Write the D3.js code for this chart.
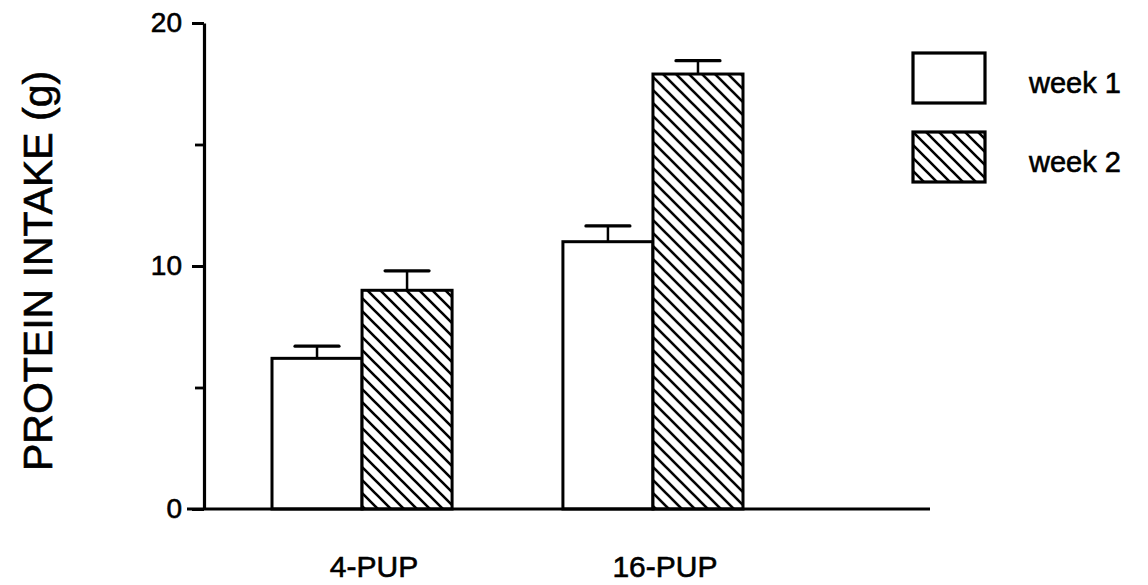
<!DOCTYPE html>
<html>
<head>
<meta charset="utf-8">
<script src="https://cdn.jsdelivr.net/npm/d3@7"></script>
<style>
  html, body { margin: 0; padding: 0; background: #fff; }
  svg { display: block; }
  text { font-family: "Liberation Sans", Arial, Helvetica, sans-serif; fill: #000; stroke: #000; stroke-width: 0.6px; }
</style>
</head>
<body>
<svg id="chart" width="1148" height="585"></svg>
<script>
// Protein intake per litter size, weeks 1 and 2 (mean ± SE)
const categories = ["4-PUP", "16-PUP"];
const seriesNames = ["week 1", "week 2"];
const week1 = [6.2, 11.0];
const week2 = [9.0, 17.9];
const week1Err = [0.5, 0.65];
const week2Err = [0.8, 0.55];
const yTickLabels = [0, 10, 20];
const yMinorTicks = [5, 15];
const yTitle = "PROTEIN INTAKE (g)";

const svg = d3.select("#chart");

const axisX = 204;
const y = d3.scaleLinear().domain([0, 20]).range([509, 23]);

const x0 = d3.scaleBand()
  .domain(categories)
  .range([272, 743])
  .paddingInner(0.381)
  .paddingOuter(0);
const x1 = d3.scaleBand()
  .domain(seriesNames)
  .range([0, x0.bandwidth()])
  .padding(0);

// Diagonal hatch fill for week 2
const defs = svg.append("defs");
const pat = defs.append("pattern")
  .attr("id", "hatch")
  .attr("patternUnits", "userSpaceOnUse")
  .attr("width", 13).attr("height", 13);
pat.append("rect").attr("width", 13).attr("height", 13).attr("fill", "#fff");
pat.append("path")
  .attr("d", "M-3,-3 L16,16 M-3,10 L3,16 M10,-3 L16,3")
  .attr("stroke", "#000").attr("stroke-width", 2.6).attr("fill", "none");

const fills = { "week 1": "#fff", "week 2": "url(#hatch)" };

const rows = categories.map((c, i) => ({
  cat: c,
  values: [
    { series: "week 1", value: week1[i], err: week1Err[i] },
    { series: "week 2", value: week2[i], err: week2Err[i] }
  ]
}));

const groups = svg.append("g").selectAll("g")
  .data(rows).join("g")
  .attr("transform", d => `translate(${x0(d.cat)},0)`);

// Error bars (behind the bar outlines)
groups.selectAll("g.err")
  .data(d => d.values).join("g")
  .attr("class", "err")
  .each(function (d) {
    const g = d3.select(this);
    const cx = x1(d.series) + x1.bandwidth() / 2;
    g.append("line")
      .attr("x1", cx).attr("x2", cx)
      .attr("y1", y(d.value)).attr("y2", y(d.value + d.err))
      .attr("stroke", "#000").attr("stroke-width", 2.5);
    g.append("line")
      .attr("x1", cx - 22).attr("x2", cx + 22)
      .attr("y1", y(d.value + d.err)).attr("y2", y(d.value + d.err))
      .attr("stroke", "#000").attr("stroke-width", 3.2)
      .attr("stroke-linecap", "round");
  });

groups.selectAll("rect")
  .data(d => d.values).join("rect")
  .attr("x", d => x1(d.series))
  .attr("width", x1.bandwidth())
  .attr("y", d => y(d.value))
  .attr("height", d => y(0) - y(d.value))
  .attr("fill", d => fills[d.series])
  .attr("stroke", "#000")
  .attr("stroke-width", 3);

// Baseline
svg.append("line")
  .attr("x1", 187).attr("x2", 930)
  .attr("y1", y(0)).attr("y2", y(0))
  .attr("stroke", "#000").attr("stroke-width", 3.2);

// Y axis
const yAxis = svg.append("g")
  .attr("transform", `translate(${axisX},0)`)
  .call(d3.axisLeft(y).tickValues(yTickLabels).tickFormat(d3.format("d"))
    .tickSize(12).tickSizeOuter(0).tickPadding(10));
yAxis.select(".domain").attr("stroke", "#000").attr("stroke-width", 3.2);
yAxis.selectAll(".tick line").attr("stroke", "#000").attr("stroke-width", 3);
yAxis.selectAll(".tick text")
  .style("font-size", "28px")
  .attr("fill", "#000");

const yMinor = svg.append("g")
  .attr("transform", `translate(${axisX},0)`)
  .call(d3.axisLeft(y).tickValues(yMinorTicks).tickFormat("").tickSize(9).tickSizeOuter(0));
yMinor.select(".domain").remove();
yMinor.selectAll(".tick line").attr("stroke", "#000").attr("stroke-width", 2.8);

// Category labels
svg.append("g").selectAll("text")
  .data(categories).join("text")
  .attr("x", d => x0(d) + x0.bandwidth() / 2 + 12)
  .attr("y", 577)
  .attr("text-anchor", "middle")
  .style("font-size", "30px")
  .text(d => d);

// Y title
svg.append("text")
  .attr("transform", "translate(52,271) rotate(-90)")
  .attr("text-anchor", "middle")
  .style("font-size", "41px")
  .text(yTitle);

// Legend
const legend = svg.append("g").selectAll("g")
  .data(seriesNames).join("g")
  .attr("transform", (d, i) => `translate(913,${53 + i * 79})`);
legend.append("rect")
  .attr("width", 72).attr("height", 50)
  .attr("fill", d => fills[d])
  .attr("stroke", "#000").attr("stroke-width", 3.2);
legend.append("text")
  .attr("x", 116).attr("y", 40)
  .style("font-size", "29px")
  .text(d => d);
</script>
</body>
</html>
